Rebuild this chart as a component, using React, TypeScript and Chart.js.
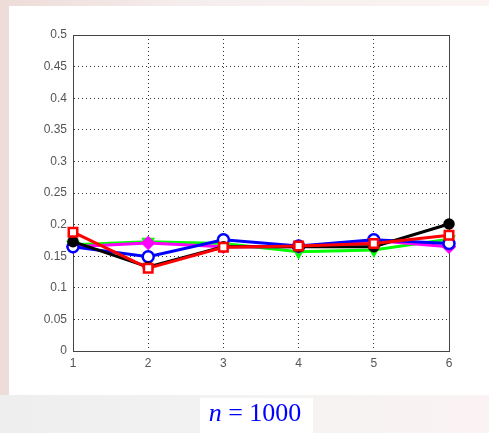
import React, { useEffect, useRef } from "react";
import { Chart, registerables } from "chart.js";

Chart.register(...registerables);

const xValues = [1, 2, 3, 4, 5, 6];
const yTicks = [0, 0.05, 0.1, 0.15, 0.2, 0.25, 0.3, 0.35, 0.4, 0.45, 0.5];

const greenSeries = [0.168, 0.173, 0.17, 0.157, 0.16, 0.177];
const magentaSeries = [0.165, 0.171, 0.165, 0.165, 0.175, 0.165];
const blueSeries = [0.165, 0.149, 0.176, 0.166, 0.176, 0.17];
const blackSeries = [0.173, 0.133, 0.165, 0.165, 0.165, 0.201];
const redSeries = [0.188, 0.131, 0.164, 0.166, 0.17, 0.183];

const toPoints = (vals: number[]) => vals.map((v, i) => ({ x: xValues[i], y: v }));

const framePlugin = {
  id: "frame",
  beforeDatasetsDraw(chart: any) {
    const { ctx, chartArea } = chart;
    ctx.save();
    ctx.strokeStyle = "#444";
    ctx.lineWidth = 1;
    ctx.setLineDash([]);
    ctx.strokeRect(chartArea.left + 0.5, chartArea.top + 0.5, chartArea.right - chartArea.left, chartArea.bottom - chartArea.top);
    ctx.restore();
  },
};

export default function App() {
  const ref = useRef<HTMLCanvasElement>(null);
  useEffect(() => {
    if (!ref.current) return;
    const mk = (label: string, data: number[], color: string, style: any, fill: string, rot = 0, radius = 5.5) => ({
      label,
      data: toPoints(data),
      borderColor: color,
      backgroundColor: fill,
      pointBorderColor: color,
      pointBackgroundColor: fill,
      borderWidth: 3,
      pointStyle: style,
      pointRadius: radius,
      pointBorderWidth: 2.5,
      pointRotation: rot,
      tension: 0,
      clip: false as any,
    });
    const chart = new Chart(ref.current, {
      type: "line",
      data: {
        datasets: [
          mk("red", redSeries, "#ff0000", "rect", "#ffffff", 0, 6),
          mk("black", blackSeries, "#000000", "circle", "#000000", 0, 4.5),
          mk("blue", blueSeries, "#0000ff", "circle", "#ffffff", 0, 5.5),
          mk("magenta", magentaSeries, "#ff00ff", "rectRot", "#ff00ff", 0, 5.5),
          mk("green", greenSeries, "#00ff00", "triangle", "#00ff00", 180, 5.5),
        ],
      },
      plugins: [framePlugin],
      options: {
        animation: false,
        responsive: false,
        maintainAspectRatio: false,
        layout: { padding: { left: 0, right: 40, top: 35, bottom: 0 } },
        plugins: { legend: { display: false }, tooltip: { enabled: false } },
        scales: {
          x: {
            type: "linear",
            min: 1,
            max: 6,
            afterFit: (s: any) => { s.height = 82; },
            afterBuildTicks: (s: any) => { s.ticks = xValues.map((v) => ({ value: v })); },
            ticks: { color: "#555", font: { family: "Liberation Sans", size: 12 }, padding: 5 },
            grid: { color: "#333", tickLength: 0, drawTicks: false },
            border: { display: true, color: "#444", dash: [1, 3] },
          },
          y: {
            min: 0,
            max: 0.5,
            afterFit: (s: any) => { s.width = 73; },
            afterBuildTicks: (s: any) => { s.ticks = yTicks.map((v) => ({ value: v })); },
            ticks: { color: "#555", font: { family: "Liberation Sans", size: 12 }, padding: 6, callback: (v: any) => String(Number(v)) },
            grid: { color: "#333", drawTicks: false },
            border: { display: true, color: "#444", dash: [1, 3] },
          },
        },
      },
    });
    return () => chart.destroy();
  }, []);

  return (
    <div style={{ position: "fixed", left: 0, top: 0, width: 489, height: 433, overflow: "hidden", background: "linear-gradient(90deg, #eddcd8 0%, #f6eeee 40%, #fbf4f2 100%)" }}>
      <div style={{ position: "absolute", left: 9, top: 6, width: 480, height: 389, background: "#ffffff" }} />
      <div style={{ position: "absolute", left: 0, top: 395, width: 489, height: 38, background: "linear-gradient(90deg, #eeeeee 0%, #f2f2f2 40%, #fbf3f3 100%)" }} />
      <div style={{ position: "absolute", left: 200, top: 398, width: 113, height: 35, background: "#ffffff" }} />
      <canvas ref={ref} width={489} height={433} style={{ position: "absolute", left: 0, top: 0 }} />
      <div style={{ position: "absolute", left: 0, top: 396, width: 510, textAlign: "center", fontFamily: "'Liberation Serif', serif", fontSize: 26, color: "#0000ff", lineHeight: "34px" }}>
        <i>n</i> = 1000
      </div>
    </div>
  );
}
